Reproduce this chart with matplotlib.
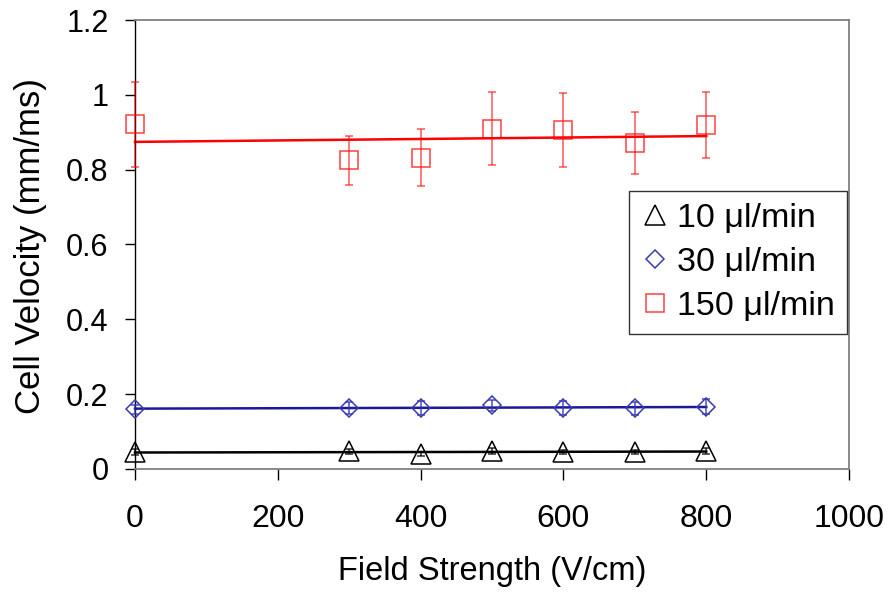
import numpy as np
import matplotlib
matplotlib.use("Agg")
import matplotlib.pyplot as plt

plt.rcParams['font.family'] = ['Liberation Sans', 'DejaVu Sans']

# data
field = [0, 300, 400, 500, 600, 700, 800]

v10 = [0.045, 0.047, 0.040, 0.047, 0.046, 0.046, 0.048]
err10 = [0.008, 0.007, 0.006, 0.008, 0.006, 0.006, 0.007]

v30 = [0.160, 0.163, 0.163, 0.170, 0.163, 0.162, 0.166]
err30 = [0.012, 0.015, 0.018, 0.015, 0.018, 0.018, 0.020]

v150 = [0.921, 0.825, 0.832, 0.910, 0.906, 0.871, 0.919]
err150 = [0.114, 0.065, 0.076, 0.097, 0.100, 0.083, 0.088]

labels = ['10 \u03bcl/min', '30 \u03bcl/min', '150 \u03bcl/min']

fig = plt.figure(figsize=(8.91, 5.92), dpi=100)
ax = fig.add_axes([0.1515, 0.2078, 0.8015, 0.7584])

series = [
    (v10, err10, '^', 14, 'black', (0, 0, 0, 0.75), 'black'),
    (v30, err30, 'D', 9.5, '#3a3ab0', (0.2, 0.2, 0.7, 0.8), '#1a1a99'),
    (v150, err150, 's', 13.5, (1, 0, 0, 0.75), (1, 0, 0, 0.6), '#ff0000'),
]

handles = []
for vals, errs, mk, ms, mcol, ecol, lcol in series:
    x = np.array(field, dtype=float)
    y = np.array(vals)
    ax.errorbar(x, y, yerr=errs, fmt='none', ecolor=ecol, elinewidth=1.2,
                capsize=2.7, capthick=1.2, clip_on=False, zorder=3)
    h, = ax.plot(x, y, linestyle='none', marker=mk, ms=ms, mfc='none',
                 mec=mcol, mew=1.1, clip_on=False, zorder=4)
    # linear trend line
    k, b = np.polyfit(x, y, 1)
    ax.plot([x.min(), x.max()], [k * x.min() + b, k * x.max() + b],
            color=lcol, lw=1.8, zorder=2, clip_on=False)
    handles.append(h)

ax.set_xlim(0, 1000)
ax.set_ylim(0, 1.2)
ax.set_xticks(np.arange(0, 1001, 200))
ax.set_yticks(np.arange(0, 1.21, 0.2))
ax.set_yticklabels(['0', '0.2', '0.4', '0.6', '0.8', '1', '1.2'])

for side in ['top', 'right', 'bottom']:
    ax.spines[side].set_color('#808080')
    ax.spines[side].set_linewidth(1.3)
ax.spines['left'].set_color('black')
ax.spines['left'].set_linewidth(1.0)

ax.tick_params(axis='x', direction='out', length=8, width=1, color='black',
               labelsize=23, pad=17)
ax.tick_params(axis='y', direction='out', length=7, width=1, color='black',
               labelsize=22, pad=12)

ax.set_xlabel('Field Strength (V/cm)', fontsize=23.5, labelpad=16)
ax.set_ylabel('Cell Velocity (mm/ms)', fontsize=25)
ax.yaxis.set_label_coords(-0.123, 0.497)

leg = ax.legend(handles, labels, loc='upper left', bbox_to_anchor=(0.692, 0.619),
                borderaxespad=0, fontsize=24.5, frameon=True, fancybox=False,
                handlelength=0.8, handletextpad=0.25, labelspacing=0.38,
                borderpad=0.35, markerscale=1.0)
leg.get_frame().set_edgecolor('black')
leg.get_frame().set_linewidth(1.0)

fig.savefig('out.png', dpi=100)
